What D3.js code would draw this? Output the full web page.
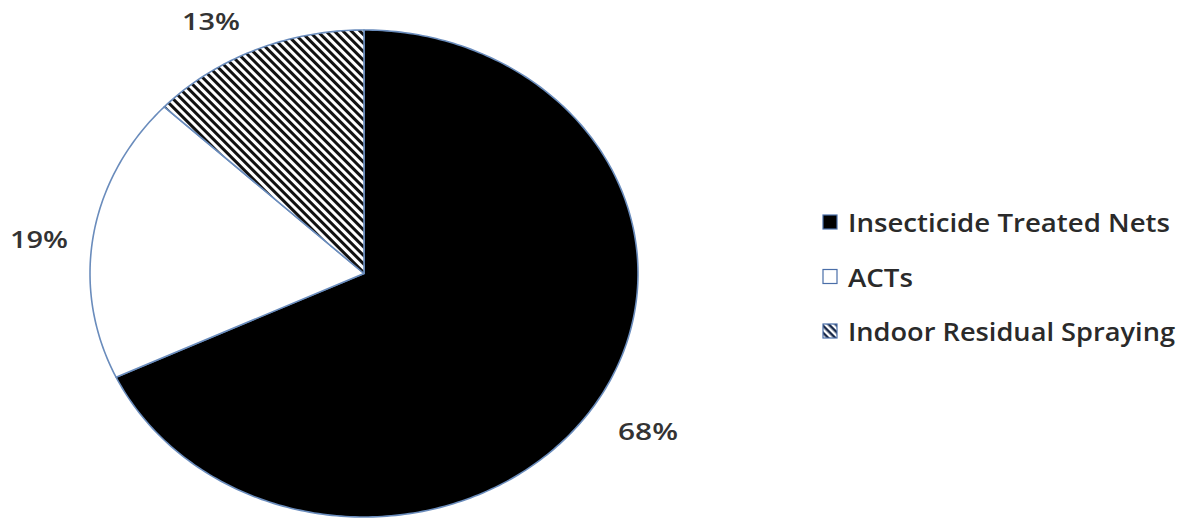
<!DOCTYPE html>
<html><head><meta charset="utf-8">
<script src="https://cdn.jsdelivr.net/npm/d3@7"></script>
<style>body{margin:0;background:#fff}svg{display:block}</style>
</head><body>
<svg id="c" width="1189" height="519"></svg>
<script>
const categories = ["Insecticide Treated Nets", "ACTs", "Indoor Residual Spraying"];
const values = [68, 19, 13];
const labels = ["68%", "19%", "13%"];

const svg = d3.select("#c");
const cx = 364, cy = 273.5, rx = 274, ry = 243.5;

const defs = svg.append("defs");
const pat = defs.append("pattern").attr("id","hatch").attr("patternUnits","userSpaceOnUse")
  .attr("width",6).attr("height",6).attr("patternTransform","rotate(45)");
pat.append("rect").attr("width",6).attr("height",6).attr("fill","#fff");
pat.append("rect").attr("width",6).attr("height",3).attr("fill","#111");
const pat2 = defs.append("pattern").attr("id","hatchS").attr("patternUnits","userSpaceOnUse")
  .attr("width",5).attr("height",5).attr("patternTransform","rotate(45)");
pat2.append("rect").attr("width",5).attr("height",5).attr("fill","#fff");
pat2.append("rect").attr("width",5).attr("height",2.5).attr("fill","#1a2a4a");

const fills = ["#000", "#fff", "url(#hatch)"];
const legFills = ["#000", "#fff", "url(#hatchS)"];

const pie = d3.pie().sort(null).value(d => d);
const arcs = pie(values);

const sx = d3.scaleLinear().domain([-1,1]).range([cx-rx, cx+rx]);
const sy = d3.scaleLinear().domain([-1,1]).range([cy-ry, cy+ry]);
const line = d3.line();
function slicePath(a){
  const n = Math.max(8, Math.ceil((a.endAngle-a.startAngle)*60));
  const pts = [[sx(0), sy(0)]];
  for(let i=0;i<=n;i++){
    const t = a.startAngle + (a.endAngle-a.startAngle)*i/n;
    pts.push([sx(Math.sin(t)), sy(-Math.cos(t))]);
  }
  return line(pts) + "Z";
}

svg.append("g").selectAll("path").data(arcs).join("path")
  .attr("d", slicePath)
  .attr("fill", (d,i) => fills[i])
  .attr("stroke", "#6a8cbc").attr("stroke-width", 1.6).attr("stroke-linejoin","round");

// labels
const labelPos = [[648, 430], [39, 238], [211, 20]];
const labelW = [60, 58, 58];
svg.append("g").selectAll("text").data(labels).join("text")
  .attr("x", (d,i) => labelPos[i][0]).attr("y", (d,i) => labelPos[i][1])
  .attr("text-anchor","middle").attr("dominant-baseline","central")
  .attr("font-family","Open Sans, sans-serif").attr("font-size", 24).attr("font-weight", 600)
  .attr("textLength", (d,i) => labelW[i]).attr("lengthAdjust","spacingAndGlyphs")
  .attr("fill","#333").text(d => d);

// legend
const legW = [322, 65, 327];
const ly = d3.scalePoint().domain(categories).range([222, 331]);
const lg = svg.append("g").selectAll("g").data(categories).join("g")
  .attr("transform", d => `translate(823,${ly(d)})`);
lg.append("rect").attr("x",0).attr("y",-7).attr("width",14).attr("height",14)
  .attr("fill", (d,i) => legFills[i]).attr("stroke","#4a6ea8").attr("stroke-width",1.2);
lg.append("text").attr("x",25).attr("y",0).attr("dominant-baseline","central")
  .attr("font-family","Open Sans, sans-serif").attr("font-size",25).attr("font-weight",600)
  .attr("textLength", (d,i) => legW[i]).attr("lengthAdjust","spacingAndGlyphs")
  .attr("fill","#2a2a2a")
  .text(d => d);
</script>
</body></html>
